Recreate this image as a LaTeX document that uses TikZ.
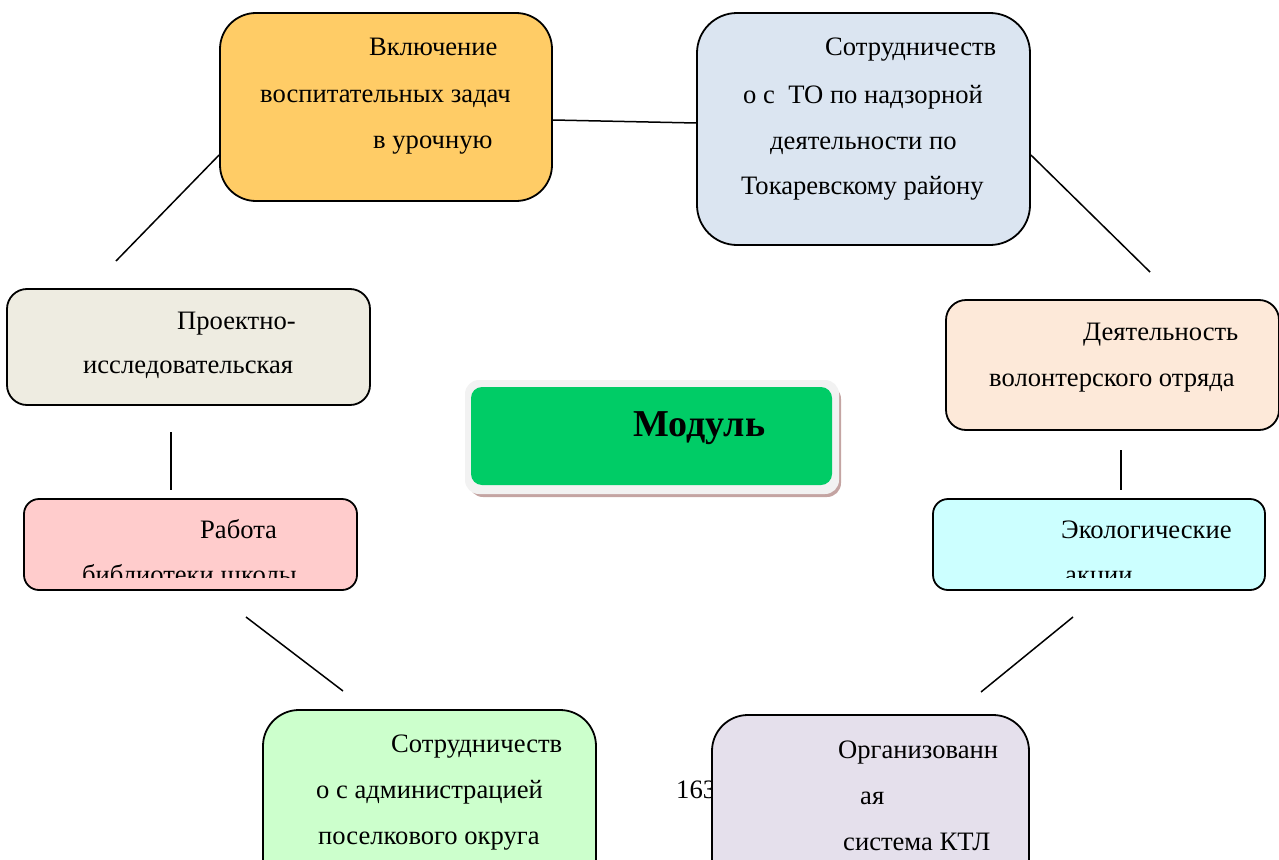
\documentclass[tikz,border=0pt]{standalone}
\usepackage{fontspec}
\setmainfont{Liberation Serif}
\definecolor{cOrange}{HTML}{FFCC66}
\definecolor{cBlue}{HTML}{DBE5F1}
\definecolor{cBeige}{HTML}{EEECE1}
\definecolor{cPeach}{HTML}{FDE9D9}
\definecolor{cPink}{HTML}{FFCCCC}
\definecolor{cCyan}{HTML}{CCFFFF}
\definecolor{cMint}{HTML}{CCFFCC}
\definecolor{cLilac}{HTML}{E5E0EC}
\definecolor{cGreen}{HTML}{00CC66}
\definecolor{cFrame}{HTML}{F2F2F2}
\definecolor{cShadow}{HTML}{C4A4A2}
\begin{document}
\begin{tikzpicture}[x=1pt,y=-1pt,
  box/.style={draw=black, line width=1.8pt, inner sep=0pt},
  txt/.style={anchor=base west, inner sep=0pt, font=\fontsize{26.6}{31}\selectfont},
  conn/.style={draw=black, line width=1.5pt}]
\useasboundingbox (0,0) rectangle (1279,859);
\clip (0,0) rectangle (1279,859);

% page number behind the lilac box
\node[txt] (pg) at (676,798) {163};

% boxes
\node[box, fill=cOrange, rounded corners=36pt, minimum width=332pt, minimum height=188pt] (orange) at (386,107) {};
\node[box, fill=cBlue, rounded corners=40pt, minimum width=333pt, minimum height=232pt] (blue) at (863.5,129) {};
\node[box, fill=cBeige, rounded corners=20pt, minimum width=363pt, minimum height=116pt] (proj) at (188.5,347) {};
\node[box, fill=cPeach, rounded corners=20pt, minimum width=333pt, minimum height=130pt] (volunt) at (1112.5,365) {};
\node[box, fill=cPink, rounded corners=15pt, minimum width=333pt, minimum height=91pt] (lib) at (190.5,544.5) {};
\node[box, fill=cCyan, rounded corners=15pt, minimum width=332pt, minimum height=91pt] (eco) at (1099,544.5) {};
\node[box, fill=cMint, rounded corners=36pt, minimum width=333pt, minimum height=190pt] (admin) at (429.5,805) {};
\node[box, fill=cLilac, rounded corners=36pt, minimum width=317pt, minimum height=190pt] (ktl) at (870.5,810) {};

% central module box
\fill[cShadow, rounded corners=14pt] (469,385) rectangle (841,497);
\node[fill=cFrame, rounded corners=14pt, minimum width=374pt, minimum height=114pt, inner sep=0pt] (modframe) at (652,437) {};
\node[fill=cGreen, rounded corners=11pt, minimum width=361pt, minimum height=98pt, inner sep=0pt] (module) at (651.5,436) {};
\node[anchor=base west, inner sep=0pt, font=\fontsize{38}{44}\selectfont\bfseries] (modt) at (633,436) {Модуль};

% texts
\node[txt] (t1a) at (369,56) {Включение};
\node[txt] (t1b) at (260,102) {воспитательных задач};
\node[txt] (t1c) at (373,148) {в урочную};

\node[txt] (t2a) at (825,56) {Сотрудничеств};
\node[txt] (t2b) at (743,103) {о с\ \ ТО по надзорной};
\node[txt] (t2c) at (770,149) {деятельности по};
\node[txt] (t2d) at (741,194) {Токаревскому району};

\node[txt] (t3a) at (177,329) {Проектно-};
\node[txt] (t3b) at (83,373) {исследовательская};

\node[txt] (t4a) at (1083,340) {Деятельность};
\node[txt] (t4b) at (989,386) {волонтерского отряда};

\node[txt] (t5a) at (200,538) {Работа};
\begin{scope}
\clip (30,505) rectangle (350,577);
\node[txt] (t5b) at (82,583) {библиотеки школы};
\end{scope}

\node[txt] (t6a) at (1061,538) {Экологические};
\begin{scope}
\clip (940,505) rectangle (1258,577);
\node[txt] (t6b) at (1065,583) {акции};
\end{scope}

\node[txt] (t7a) at (391,752) {Сотрудничеств};
\node[txt] (t7b) at (316,798) {о с администрацией};
\node[txt] (t7c) at (318,844) {поселкового округа};

\node[txt] (t8a) at (838,758) {Организованн};
\node[txt] (t8b) at (860,804) {ая};
\node[txt] (t8c) at (843,850) {система КТЛ};

% free ends of connectors
\coordinate (e1) at (116,261);
\coordinate (e2) at (1150,272);
\coordinate (e3a) at (171,432);
\coordinate (e3b) at (171,490);
\coordinate (e4a) at (1121,450);
\coordinate (e4b) at (1121,490);
\coordinate (e5a) at (246,617);
\coordinate (e5b) at (343,691);
\coordinate (e6a) at (1073,617);
\coordinate (e6b) at (981,692);

% connectors
\draw[conn] ([yshift=-13pt]orange.east) -- ([yshift=6pt]blue.west);
\draw[conn] ([yshift=-48pt]orange.west) -- (e1);
\draw[conn] ([yshift=-26pt]blue.east) -- (e2);
\draw[conn] (e3a) -- (e3b);
\draw[conn] (e4a) -- (e4b);
\draw[conn] (e5a) -- (e5b);
\draw[conn] (e6a) -- (e6b);
\end{tikzpicture}
\end{document}
